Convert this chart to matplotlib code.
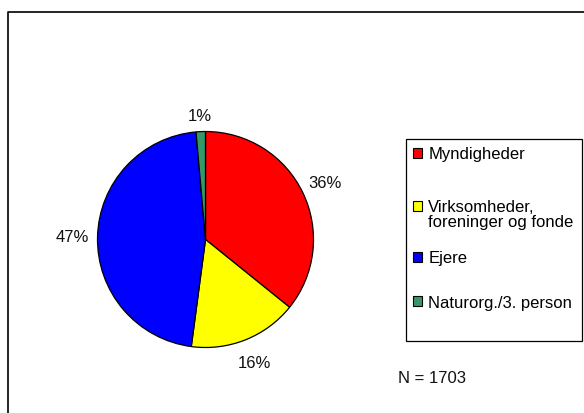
import matplotlib
matplotlib.use('Agg')
import matplotlib.pyplot as plt
from matplotlib.patches import Patch, Rectangle
from matplotlib.lines import Line2D
from matplotlib.transforms import ScaledTranslation

plt.rcParams['font.family'] = ['Liberation Sans', 'DejaVu Sans']

# data
categories = ['Myndigheder', 'Virksomheder,\nforeninger og fonde', 'Ejere', 'Naturorg./3. person']
values = [35.8, 16.3, 46.5, 1.4]
pct_labels = ['36%', '16%', '47%', '1%']
colors = ['#FF0000', '#FFFF00', '#0000FF', '#339966']
n_text = 'N = 1703'

W, H = 584, 414
fig = plt.figure(figsize=(W / 100, H / 100), dpi=100)

def fx(px):
    return px / W

def fy(py):
    return 1 - py / H

# chart area border (top and left edges visible, rest cut off)
fig.lines.append(Line2D([fx(8), fx(8), 1.0], [0.0, fy(13), fy(13)],
                        transform=fig.transFigure, color='black', linewidth=1.2))

# pie axes: centre ~(205, 241) px, radius ~108 px
r = 108
cx, cy = 205.5, 240.5
ax = fig.add_axes([(cx - r) / W, (H - cy - r) / H, 2 * r / W, 2 * r / H])
wedges, texts = ax.pie(values, labels=pct_labels, colors=colors,
                       startangle=90, counterclock=False, labeldistance=1.23,
                       wedgeprops=dict(edgecolor='black', linewidth=0.9),
                       textprops=dict(fontsize=12, color='#111111'))
for t in texts:
    t.set_ha('center')
    t.set_va('center')
texts[3].set_position((texts[3].get_position()[0], 1.15))
ax.set_xlim(-1, 1)
ax.set_ylim(-1, 1)
ax.set_aspect('equal')

# legend frame drawn separately (Excel-style extra space at bottom)
fig.patches.append(Rectangle((fx(405.5), fy(342)), fx(581.5) - fx(405.5), fy(140) - fy(342),
                             transform=fig.transFigure, fill=False,
                             edgecolor='black', linewidth=0.9))

handles = [Patch(facecolor=c, edgecolor='black', linewidth=0.8) for c in colors]
leg = fig.legend(handles, categories, loc='upper left',
                 bbox_to_anchor=(fx(405), fy(140)),
                 fontsize=12, frameon=False,
                 handlelength=0.55, handleheight=0.55, handletextpad=0.4,
                 labelspacing=1.75, borderpad=0.45, borderaxespad=0)
for t in leg.get_texts():
    t.set_linespacing(1.05)
# two-line entry: first line level with its marker, as in Excel
vt = leg.get_texts()[1]
vt.set_transform(vt.get_transform() + ScaledTranslation(0, -8 / 100, fig.dpi_scale_trans))

fig.text(fx(398), fy(379), n_text, fontsize=12, va='center', ha='left',
         color='#111111')

fig.savefig('out.png', dpi=100)
